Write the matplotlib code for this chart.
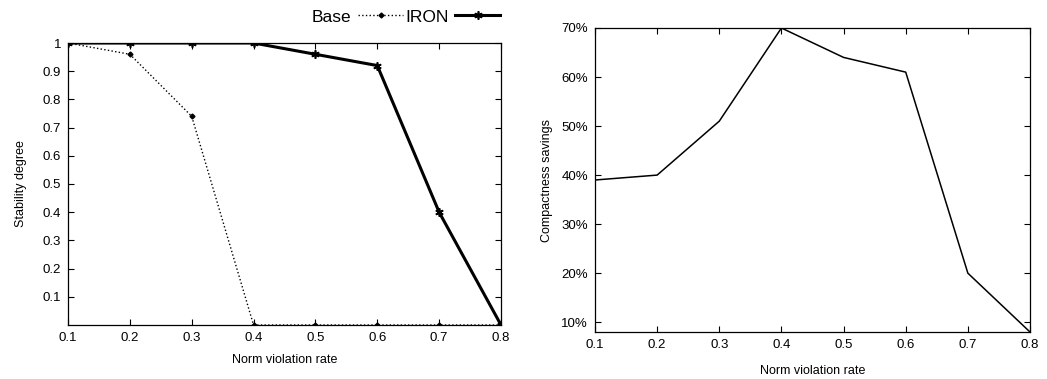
import matplotlib
matplotlib.use('Agg')
import matplotlib.pyplot as plt
from matplotlib.ticker import FuncFormatter

plt.rcParams['font.family'] = ['Liberation Sans', 'DejaVu Sans']

# --- data ---
rates = [0.1, 0.2, 0.3, 0.4, 0.5, 0.6, 0.7, 0.8]
base_stability = [1.0, 0.96, 0.74, 0.0, 0.0, 0.0, 0.0, 0.0]
iron_stability = [1.0, 1.0, 1.0, 1.0, 0.96, 0.92, 0.40, 0.0]
savings = [39, 40, 51, 70, 64, 61, 20, 8]

stab_ticks = [0.1, 0.2, 0.3, 0.4, 0.5, 0.6, 0.7, 0.8, 0.9, 1.0]
save_ticks = [10, 20, 30, 40, 50, 60, 70]

W, H = 1047, 379
fig = plt.figure(figsize=(W / 100, H / 100), dpi=100)

def px_axes(l, t, r, b):
    return fig.add_axes([l / W, 1 - b / H, (r - l) / W, (b - t) / H])

def style(ax):
    ax.tick_params(direction='in', top=True, right=True, labelsize=9.5, length=4, width=0.8, pad=5)
    for s in ax.spines.values():
        s.set_linewidth(0.9)
    ax.set_xticks(rates)
    ax.xaxis.set_major_formatter(FuncFormatter(lambda v, p: f'{v:g}'))
    ax.set_xlim(0.1, 0.8)

# left panel
ax1 = px_axes(68, 43, 501, 325)
style(ax1)
ax1.plot(rates, base_stability, color='black', linestyle=':', linewidth=1.0,
         marker='D', markersize=2.5, label='Base')
ax1.plot(rates, iron_stability, color='black', linestyle='-', linewidth=2.2,
         marker=(6, 2, 0), markersize=6, markeredgewidth=1.2, label='IRON')
ax1.set_ylim(0, 1)
ax1.set_yticks(stab_ticks)
ax1.yaxis.set_major_formatter(FuncFormatter(lambda v, p: f'{v:g}'))
ax1.set_xlabel('Norm violation rate', fontsize=9, labelpad=7)
ax1.set_ylabel('Stability degree', fontsize=9, labelpad=11)
fig.legend(loc='center', bbox_to_anchor=(406 / W, 1 - 17 / H), ncol=2, frameon=False,
           markerfirst=False, fontsize=12.5, handlelength=2.6, columnspacing=0.1,
           handletextpad=0.4)

# right panel
ax2 = px_axes(595, 28, 1030, 332)
style(ax2)
ax2.plot(rates, savings, color='black', linewidth=1.1)
ax2.set_ylim(8, 70)
ax2.set_yticks(save_ticks)
ax2.yaxis.set_major_formatter(FuncFormatter(lambda v, p: f'{v:g}%'))
ax2.set_xlabel('Norm violation rate', fontsize=9, labelpad=10)
ax2.set_ylabel('Compactness savings', fontsize=9, labelpad=6)

fig.savefig('out.png', dpi=100)
